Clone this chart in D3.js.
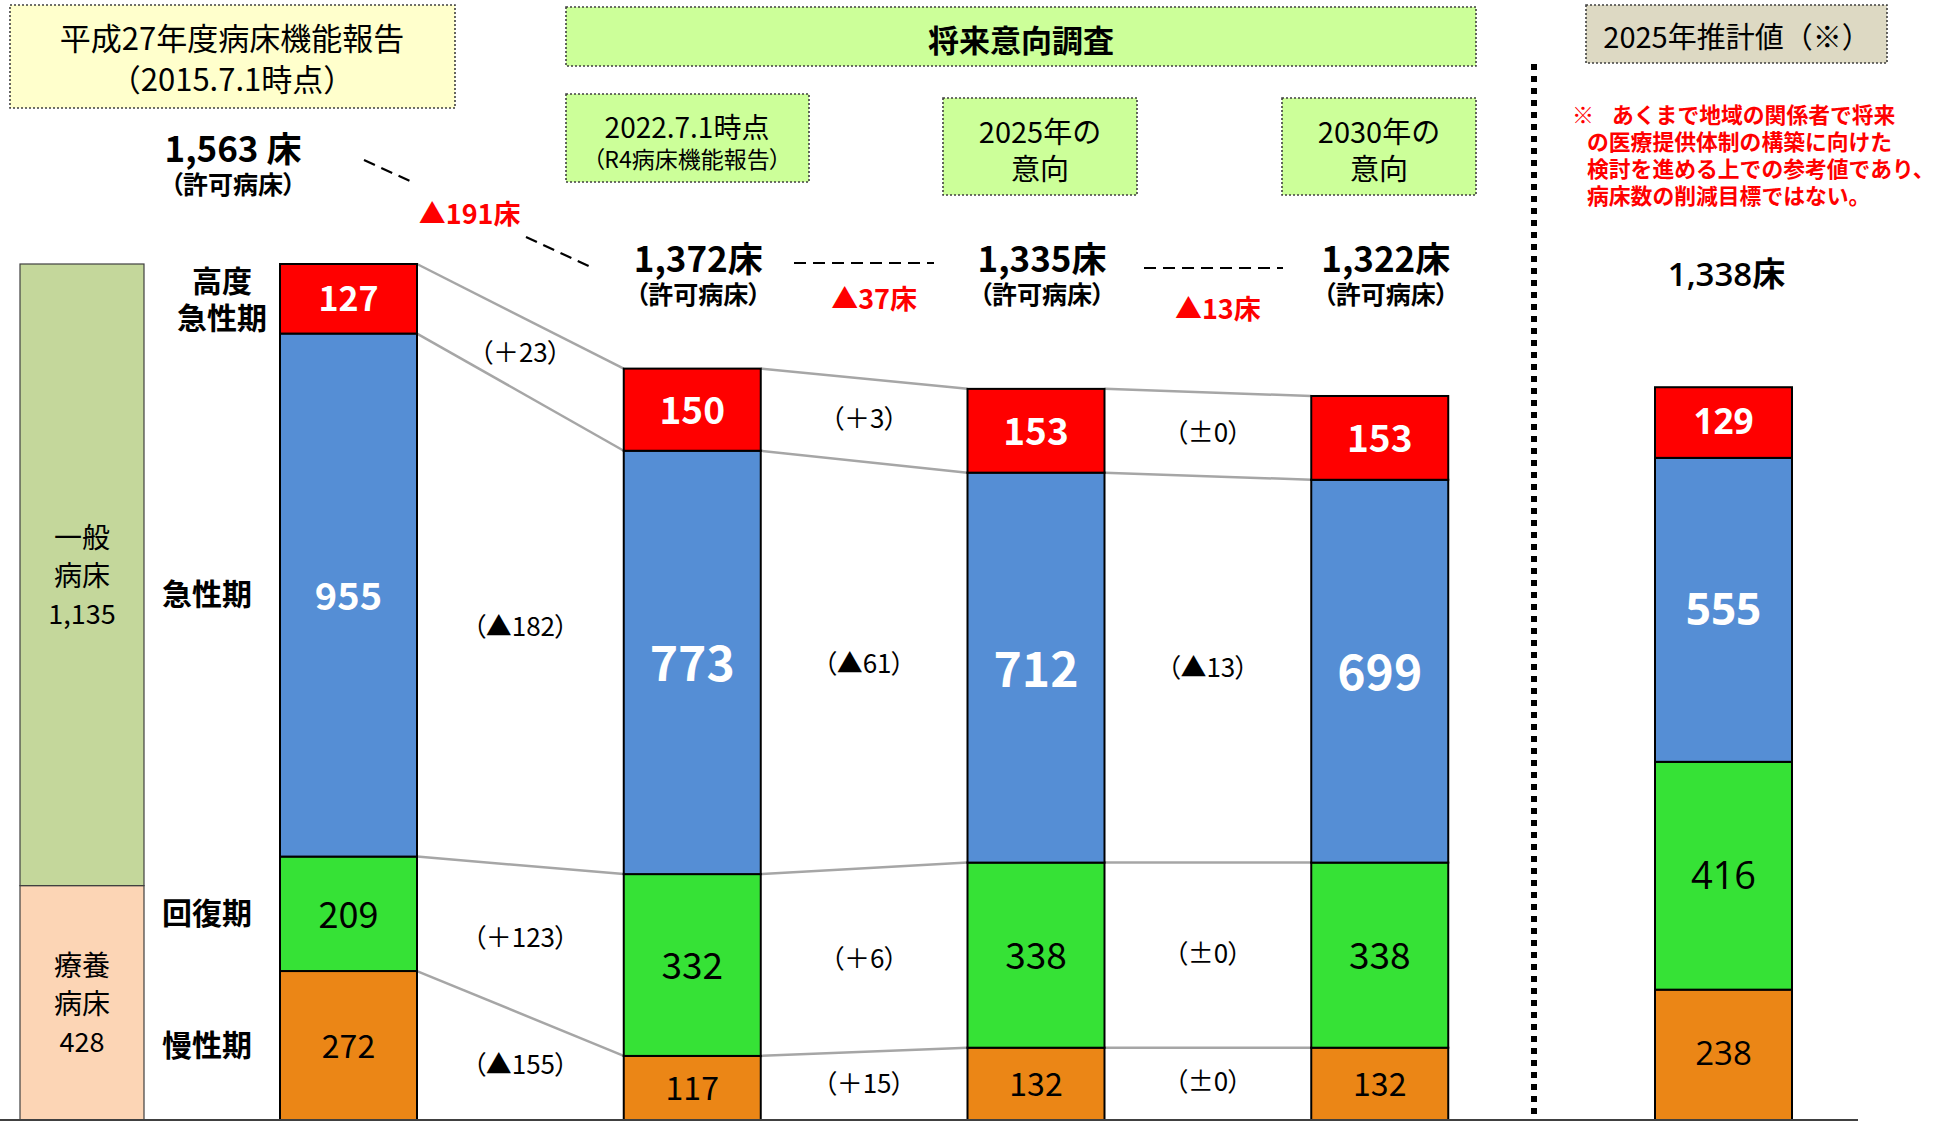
<!doctype html>
<html>
<head>
<meta charset="utf-8">
<title>病床機能報告と将来意向調査</title>
<script src="https://cdn.jsdelivr.net/npm/d3@7"></script>
<style>
body { margin: 0; background: #fff; }
text { font-family: "Noto Sans CJK JP", sans-serif; }
</style>
</head>
<body>
<script>
// columns: 2015 report, 2022 report, 2025 intention, 2030 intention, 2025 estimate
var columns = ["2015.7.1", "2022.7.1", "2025意向", "2030意向", "2025推計"];
var stageNames = ["高度急性期", "急性期", "回復期", "慢性期"];
var highAcute = [127, 150, 153, 153, 129];
var acute = [955, 773, 712, 699, 555];
var recovery = [209, 332, 338, 338, 416];
var chronic = [272, 117, 132, 132, 238];
var bedTypes = ["療養病床", "一般病床"];
var bedTypeCounts = [428, 1135];
var noteLines = ["あくまで地域の関係者で将来", "の医療提供体制の構築に向けた", "検討を進める上での参考値であり、", "病床数の削減目標ではない。"];

var svg = d3.select("body").append("svg").attr("width", 1940).attr("height", 1122);

var table = columns.map(function (c, i) {
    return { col: c, chronic: chronic[i], recovery: recovery[i], acute: acute[i], high: highAcute[i] };
});
var keys = ["chronic", "recovery", "acute", "high"];
var colors = { high: "#FF0000", acute: "#558ED5", recovery: "#36E236", chronic: "#EB8616" };
var series = d3.stack().keys(keys)(table);
var totals = table.map(function (d) { return d.chronic + d.recovery + d.acute + d.high; });

var y = d3.scaleLinear().domain([0, totals[0]]).range([1120, 264]);
var x = d3.scalePoint().domain(columns).range([348.5, 1723.5]);
var barW = 137;
var fmt = d3.format(",");

function txt(str, px, py, size, weight, fill, anchor) {
    return svg.append("text").attr("x", px).attr("y", py)
        .attr("text-anchor", anchor || "middle").attr("dominant-baseline", "central")
        .attr("font-size", size).attr("font-weight", weight || 400)
        .attr("fill", fill || "#000").text(str);
}
function box(bx, by, bw, bh, fill) {
    svg.append("rect").attr("x", bx).attr("y", by).attr("width", bw).attr("height", bh)
        .attr("fill", fill).attr("stroke", "#404040").attr("stroke-width", 1.6)
        .attr("stroke-dasharray", "2,2");
}

// header boxes
box(10, 5, 445, 103, "#FFFFCC");
txt("平成27年度病床機能報告", 232, 36, 31);
txt("（2015.7.1時点）", 232, 77, 31);
box(566, 7, 910, 59, "#CCFF99");
txt("将来意向調査", 1021, 38, 31, 700);
box(566, 94, 243, 88, "#CCFF99");
txt("2022.7.1時点", 687, 126, 28);
txt("（R4病床機能報告）", 687, 158, 23).style("font-feature-settings", '"palt"');
box(943, 98, 194, 97, "#CCFF99");
txt("2025年の", 1040, 130, 29);
txt("意向", 1040, 167, 29);
box(1282, 98, 194, 97, "#CCFF99");
txt("2030年の", 1379, 130, 29);
txt("意向", 1379, 167, 29);
box(1586, 5, 301, 58, "#DDD9C3");
txt("2025年推計値（※）", 1737, 35, 29);

// note
txt("※", 1572, 113, 22, 700, "#FF0000", "start");
noteLines.forEach(function (l, i) {
    txt(l, i === 0 ? 1612 : 1587, 113 + i * 27.3, 21.8, 700, "#FF0000", "start");
});

// divider
svg.append("line").attr("x1", 1534).attr("x2", 1534).attr("y1", 64).attr("y2", 1120)
    .attr("stroke", "#000").attr("stroke-width", 6).attr("stroke-dasharray", "6,6");

// bed type boxes on the left
var bedStack = d3.cumsum(bedTypeCounts);
var bedFill = ["#FCD5B5", "#C4D79B"];
bedTypes.forEach(function (t, i) {
    var lo = i === 0 ? 0 : bedStack[i - 1], hi = bedStack[i];
    svg.append("rect").attr("x", 20).attr("y", y(hi)).attr("width", 124).attr("height", y(lo) - y(hi))
        .attr("fill", bedFill[i]).attr("stroke", "#404040").attr("stroke-width", 1.2);
    var cy = y((lo + hi) / 2);
    txt(t.slice(0, 2), 82, cy - 39, 28);
    txt(t.slice(2), 82, cy - 1, 28);
    txt(fmt(bedTypeCounts[i]), 82, cy + 38, 27);
});

// stage labels beside the first bar
series.forEach(function (s, k) {
    var d = s[0], cy = y((d[0] + d[1]) / 2);
    var name = stageNames[3 - k];
    if (name === "高度急性期") {
        txt("高度", 222, cy - 20, 30, 700);
        txt("急性期", 222, cy + 17, 30, 700);
    } else {
        txt(name, 207, cy - 3, 30, 700);
    }
});

// connecting lines between bars
series.forEach(function (s) {
    for (var i = 0; i < 3; i++) {
        svg.append("line")
            .attr("x1", x(columns[i]) + barW / 2).attr("y1", y(s[i][1]))
            .attr("x2", x(columns[i + 1]) - barW / 2).attr("y2", y(s[i + 1][1]))
            .attr("stroke", "#A6A6A6").attr("stroke-width", 2.5);
    }
});

// bars
series.forEach(function (s) {
    svg.selectAll(null).data(s).enter().append("rect")
        .attr("x", function (d) { return x(d.data.col) - barW / 2; })
        .attr("y", function (d) { return y(d[1]); })
        .attr("width", barW)
        .attr("height", function (d) { return y(d[0]) - y(d[1]); })
        .attr("fill", colors[s.key]).attr("stroke", "#000").attr("stroke-width", 2);
});

// values in bars
var sizes = {
    high: [34, 37, 37, 37, 35], acute: [38, 48, 48, 48, 44],
    recovery: [36, 37, 37, 37, 38], chronic: [32, 32, 32, 32, 33]
};
series.forEach(function (s) {
    var white = s.key === "high" || s.key === "acute";
    s.forEach(function (d, i) {
        var t = txt(d.data[s.key], x(d.data.col), y((d[0] + d[1]) / 2) - 2, sizes[s.key][i],
            white ? 700 : 400, white ? "#fff" : "#000");
        if (i === 4) t.style("font-family", '"Open Sans", "Noto Sans CJK JP", sans-serif');
    });
});

// change labels between bars
function diffLabel(v) {
    if (v > 0) return "（＋" + v + "）";
    if (v < 0) return "（▲" + (-v) + "）";
    return "（±0）";
}
series.forEach(function (s) {
    for (var i = 0; i < 3; i++) {
        var a = s[i], b = s[i + 1];
        var cy = (y((a[0] + a[1]) / 2) + y((b[0] + b[1]) / 2)) / 2;
        txt(diffLabel(b.data[s.key] - a.data[s.key]), (x(columns[i]) + x(columns[i + 1])) / 2, cy - 4, 26)
            .style("font-feature-settings", '"palt"');
    }
});

// totals
var totalX = columns.map(function (c, i) { return i === 0 ? 233 : x(c) + (i === 4 ? 3 : 6); });
totals.forEach(function (t, i) {
    if (i === 4) {
        txt(fmt(t) + "床", totalX[i], 273, 33, 600)
            .style("font-family", '"Open Sans", "Noto Sans CJK JP", sans-serif');
        return;
    }
    var ty = i === 0 ? 146 : 256;
    txt(fmt(t) + (i === 0 ? " 床" : "床"), totalX[i], ty, 35, 700);
    txt("（許可病床）", totalX[i], ty + 37, 25, 700).style("font-feature-settings", '"palt"');
});

// total differences
var diffY = [212, 297, 307];
for (var i = 0; i < 3; i++) {
    txt("▲" + (totals[i] - totals[i + 1]) + "床", (totalX[i] + totalX[i + 1]) / 2 + 4, diffY[i], 27, 700, "#FF0000");
}
var dash = { stroke: "#000", "stroke-width": 2.2, "stroke-dasharray": "12,7" };
function dline(x1, y1, x2, y2) {
    var l = svg.append("line").attr("x1", x1).attr("y1", y1).attr("x2", x2).attr("y2", y2);
    Object.keys(dash).forEach(function (k) { l.attr(k, dash[k]); });
}
dline(364, 160, 412, 182);
dline(526, 237, 593, 268);
dline(794, 263, 934, 263);
dline(1144, 268, 1283, 268);

// baseline
svg.append("line").attr("x1", 0).attr("x2", 1858).attr("y1", 1120).attr("y2", 1120)
    .attr("stroke", "#404040").attr("stroke-width", 2);
</script>
</body>
</html>
